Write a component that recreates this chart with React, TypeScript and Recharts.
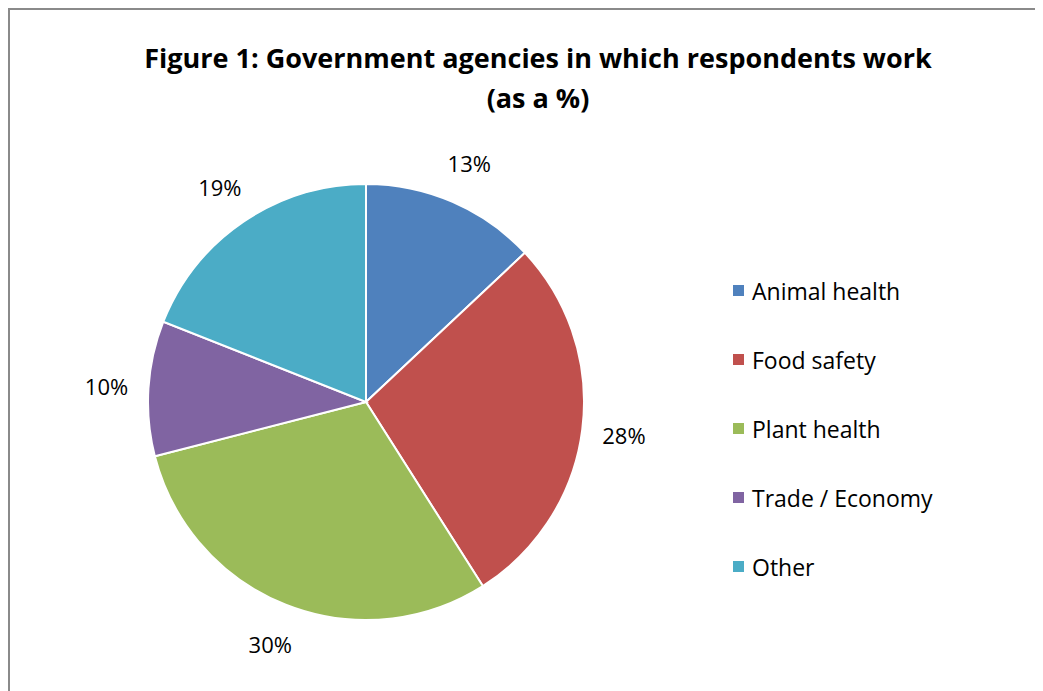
import { PieChart, Pie, Cell, Legend } from "recharts";

const agencies = ["Animal health", "Food safety", "Plant health", "Trade / Economy", "Other"];
const shares = [13, 28, 30, 10, 19];
const colors = ["#4F81BD", "#C0504D", "#9BBB59", "#8064A2", "#4BACC6"];

const data = agencies.map((name, i) => ({ name, value: shares[i] }));

const FONT = "'Open Sans', Lato, sans-serif";
const RAD = Math.PI / 180;

const renderLabel = (p: any) => {
  const r = p.outerRadius + 42;
  const x = p.cx + r * Math.cos(-p.midAngle * RAD);
  const y = p.cy + r * Math.sin(-p.midAngle * RAD);
  return (
    <text x={x} y={y} textAnchor="middle" dominantBaseline="central" fontSize={22} fill="#000" fontFamily={FONT}>
      {p.value}%
    </text>
  );
};

const LegendBox = () => (
  <div style={{ fontFamily: FONT, fontSize: 23, color: "#000" }}>
    {data.map((d, i) => (
      <div key={d.name} style={{ display: "flex", alignItems: "center", height: 69 }}>
        <span style={{ width: 11, height: 11, background: colors[i], marginRight: 8, display: "inline-block" }} />
        <span>{d.name}</span>
      </div>
    ))}
  </div>
);

export default function App() {
  return (
    <div style={{ position: "relative", width: 1035, height: 683, borderTop: "2px solid #8a8a8a", borderLeft: "2px solid #8a8a8a", background: "#fff" }}>
      <div style={{ position: "absolute", left: 0, top: 28, width: 1056, textAlign: "center", fontFamily: FONT, fontWeight: 700, fontSize: 27, lineHeight: "40px", color: "#000" }}>
        Figure 1: Government agencies in which respondents work
        <br />
        (as a %)
      </div>
      <PieChart width={1035} height={683} style={{ position: "absolute", left: 0, top: 0 }}>
        <Pie
          data={data}
          dataKey="value"
          nameKey="name"
          cx={351}
          cy={387}
          outerRadius={218}
          startAngle={90}
          endAngle={-270}
          stroke="#fff"
          strokeWidth={2}
          label={renderLabel}
          labelLine={false}
          isAnimationActive={false}
        >
          {data.map((d, i) => (
            <Cell key={d.name} fill={colors[i]} />
          ))}
        </Pie>
        <Legend
          content={<LegendBox />}
          wrapperStyle={{ position: "absolute", left: 723, top: 246, width: 280 }}
        />
      </PieChart>
    </div>
  );
}
